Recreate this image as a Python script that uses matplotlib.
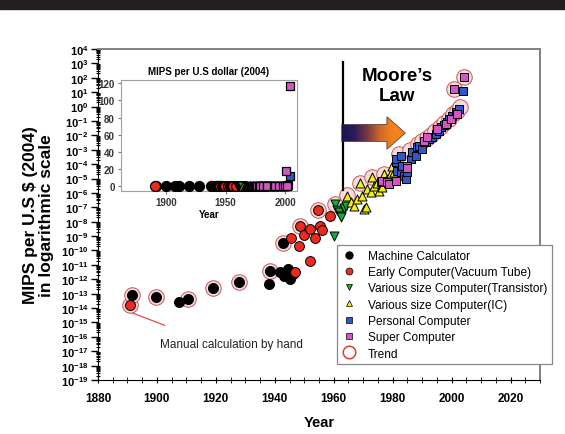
import numpy as np
import matplotlib.pyplot as plt
from matplotlib.colors import LinearSegmentedColormap
from matplotlib.patches import Polygon, Rectangle
from matplotlib.lines import Line2D
from matplotlib.ticker import FixedLocator, MultipleLocator, NullFormatter

plt.rcParams["font.family"] = ["Liberation Sans", "DejaVu Sans"]
plt.rcParams["mathtext.fontset"] = "custom"
plt.rcParams["mathtext.rm"] = "Liberation Sans:bold"
plt.rcParams["mathtext.bf"] = "Liberation Sans:bold"
plt.rcParams["mathtext.it"] = "Liberation Sans:bold"

OUTPUT_FIG = "out.png"

# values are log10(MIPS per US$ 2004)
CALC_YEARS = [1891.5, 1899.6, 1907.5, 1910.4, 1919.1, 1927.9, 1937.9, 1938.5,
              1941.9, 1942.8, 1943.0, 1944.4, 1945.3, 1946.2]
CALC_EXP = [-13.1, -13.2, -13.58, -13.38, -12.62, -12.2, -12.35, -11.4,
            -11.5, -9.47, -11.74, -11.3, -11.97, -11.6]

MANUAL_YEARS = [1891.0]
MANUAL_EXP = [-13.8]

TUBE_YEARS = [1945.6, 1946.9, 1948.1, 1948.7, 1949.8, 1951.8, 1951.9,
              1953.8, 1954.7, 1955.2, 1955.9, 1958.9]
TUBE_EXP = [-9.1, -11.5, -9.66, -8.3, -8.9, -8.5, -10.7,
            -9.1, -7.16, -8.27, -8.55, -7.6]

TRANSISTOR_YEARS = [1960.0, 1960.3, 1961.0, 1961.7, 1962.3, 1962.6, 1963.4, 1964.0]
TRANSISTOR_EXP = [-8.96, -6.76, -7.2, -7.3, -7.6, -7.7, -7.06, -6.9]

IC_YEARS = [1964.5, 1966.0, 1966.8, 1968.0, 1968.9, 1969.7, 1970.2, 1970.8,
            1971.4, 1972.5, 1973.1, 1973.6, 1974.8, 1975.3, 1976.5, 1977.0,
            1978.2, 1979.3, 1979.9, 1980.4]
IC_EXP = [-6.2, -6.6, -6.9, -6.4, -5.3, -6.2, -7.1, -6.95,
          -5.7, -5.95, -4.88, -5.5, -5.3, -5.84, -5.6, -4.68,
          -5.05, -4.6, -4.1, -4.56]

PC_YEARS = [1981.0, 1981.0, 1981.6, 1982.7, 1982.7, 1983.3, 1983.8, 1984.4,
            1985.0, 1986.1, 1986.7, 1987.8, 1988.4, 1989.0, 1990.0, 1990.6,
            1991.2, 1992.3, 1993.5, 1994.6, 1995.7, 1996.3, 1997.4, 1998.6,
            1999.1, 2000.3, 2001.4, 2002.6, 2004.0]
PC_EXP = [-3.87, -3.64, -4.45, -4.56, -3.41, -4.1, -4.8, -5.03,
          -4.56, -3.64, -3.18, -3.41, -2.83, -2.76, -2.94, -2.48,
          -2.44, -2.25, -2.13, -1.9, -1.67, -1.44, -1.28, -1.09,
          -0.86, -0.63, -0.4, -0.17, 1.08]

SUPER_YEARS = [1975.9, 1976.5, 1978.2, 1978.8, 1981.0, 1984.8, 1985.0, 1990.6,
               1991.8, 1995.2, 1998.0, 1999.7, 2002.0, 2000.9, 2004.3]
SUPER_EXP = [-5.26, -5.15, -5.21, -5.4, -5.15, -4.1, -4.29, -2.37,
             -2.13, -1.56, -1.2, -0.86, -0.51, 1.23, 2.07]

TREND_YEARS = [1891.0, 1891.5, 1899.6, 1910.4, 1919.1, 1927.9, 1938.5, 1942.8,
               1948.7, 1954.7, 1960.3, 1964.4, 1968.9, 1973.1, 1977.0, 1982.0,
               1986.0, 1988.5, 1990.0, 1991.5, 1993.0, 1994.5, 1996.0, 1997.5,
               1999.0, 2000.5, 2002.0, 2003.0, 2000.9, 2004.3]
TREND_EXP = [-13.8, -13.1, -13.2, -13.38, -12.62, -12.2, -11.4, -9.47,
             -8.3, -7.16, -6.76, -6.14, -5.3, -4.88, -4.68, -3.3,
             -3.0, -2.6, -2.4, -2.15, -1.95, -1.7, -1.4, -1.15,
             -0.85, -0.55, -0.3, -0.05, 1.23, 2.07]

LABELS = ["Machine Calculator", "Early Computer(Vacuum Tube)",
          "Various size Computer(Transistor)", "Various size Computer(IC)",
          "Personal Computer", "Super Computer", "Trend"]


def main():
    series = [
        (CALC_YEARS, CALC_EXP, "o", "#000000", 52),
        (MANUAL_YEARS, MANUAL_EXP, "o", "#ee2a1f", 52),
        (TUBE_YEARS, TUBE_EXP, "o", "#ee2a1f", 50),
        (TRANSISTOR_YEARS, TRANSISTOR_EXP, "v", "#1da83a", 42),
        (IC_YEARS, IC_EXP, "^", "#f2ee10", 42),
        (PC_YEARS, PC_EXP, "s", "#3355c8", 40),
        (SUPER_YEARS, SUPER_EXP, "s", "#d455c4", 40),
    ]

    fig = plt.figure(figsize=(5.65, 4.35), dpi=100)
    fig.patches.append(Rectangle((0, 1 - 10 / 435), 1, 10 / 435,
                                 transform=fig.transFigure, color="#231f20"))

    ax = fig.add_axes([98 / 565, 1 - 381 / 435, 442 / 565, 331 / 435])
    ax.set_yscale("log")

    # trend halos behind the markers
    ax.scatter(TREND_YEARS, 10.0 ** np.array(TREND_EXP), s=125, marker="o",
               facecolor="#f6dcdc", edgecolor="#c85858", linewidth=0.7, zorder=2)
    for years, exps, mk, col, size in series:
        ax.scatter(years, 10.0 ** np.array(exps), s=size, marker=mk,
                   facecolor=col, edgecolor="black", linewidth=0.7, zorder=3)

    ax.set_xlim(1880, 2030)
    ax.set_ylim(1e-19, 1e4)

    exps = list(range(-19, 5))
    ax.yaxis.set_major_locator(FixedLocator([10.0 ** e for e in exps]))
    ax.set_yticklabels([r"$\mathbf{10^{%d}}$" % e for e in exps], fontsize=8)
    minors = [m * 10.0 ** e for e in range(-19, 4) for m in range(2, 10)]
    ax.yaxis.set_minor_locator(FixedLocator(minors))
    ax.yaxis.set_minor_formatter(NullFormatter())
    ax.tick_params(axis="y", which="major", direction="out", length=5, width=1, pad=2)
    ax.tick_params(axis="y", which="minor", direction="inout", length=3, width=0.8)

    ax.xaxis.set_major_locator(MultipleLocator(20))
    ax.xaxis.set_minor_locator(MultipleLocator(5))
    ax.tick_params(axis="x", which="major", direction="inout", length=5, pad=6)
    ax.tick_params(axis="x", which="minor", direction="inout", length=4)
    for lbl in ax.get_xticklabels():
        lbl.set_fontweight("bold")
        lbl.set_fontsize(8.5)

    for side in ["top", "right"]:
        ax.spines[side].set_color("#808080")
        ax.spines[side].set_linewidth(1.4)

    ax.set_xlabel("Year", fontsize=10.5, fontweight="bold", labelpad=8)
    ax.set_ylabel("MIPS per U.S $ (2004)\nin logarithmic scale", fontsize=12.5,
                  fontweight="bold", labelpad=5, linespacing=1.05)

    # Moore's law marker line and label
    ax.plot([1963, 1963], [10 ** 3.1, 10 ** -5.8], color="black", lw=1.6, zorder=4)
    ax.text(1981.6, 10 ** 1.45, "Moore\u2019s\nLaw", ha="center", va="center",
            fontsize=13.5, fontweight="bold", linespacing=1.2)

    ax.plot([1891.8, 1902.6], [10 ** -14.35, 10 ** -15.2], color="#f04848", lw=0.9)
    ax.text(1900.9, 10 ** -16.5, "Manual calculation by hand", fontsize=8.5,
            va="center", color="#222222")

    handles = [
        Line2D([], [], ls="", marker="o", mfc="#000000", mec="black", ms=5),
        Line2D([], [], ls="", marker="o", mfc="#ee2a1f", mec="black", ms=5, mew=0.5),
        Line2D([], [], ls="", marker="v", mfc="#1da83a", mec="black", ms=5, mew=0.5),
        Line2D([], [], ls="", marker="^", mfc="#f2ee10", mec="black", ms=5, mew=0.5),
        Line2D([], [], ls="", marker="s", mfc="#3355c8", mec="black", ms=4.5, mew=0.5),
        Line2D([], [], ls="", marker="s", mfc="#d455c4", mec="black", ms=4.5, mew=0.5),
        Line2D([], [], ls="", marker="o", mfc="none", mec="#e03a30", ms=9, mew=1.1),
    ]
    leg = ax.legend(handles, LABELS, loc="upper left",
                    bbox_to_anchor=(337 / 565, 1 - 246 / 435),
                    bbox_transform=fig.transFigure, fontsize=8.6, fancybox=False,
                    edgecolor="#888888", framealpha=1, labelspacing=0.36,
                    handlelength=1.2, handletextpad=1.0, borderpad=0.4,
                    borderaxespad=0)
    leg.get_frame().set_linewidth(0.9)
    leg.set_zorder(6)

    # inset: same data on a linear scale
    ins = fig.add_axes([121 / 565, 1 - 192 / 435, 176 / 565, 111 / 435])
    for years, exps_, mk, col, size in series:
        ins.scatter(years, 10.0 ** np.array(exps_), s=size * 1.0, marker=mk,
                    facecolor=col, edgecolor="black", linewidth=0.9, zorder=3)
    ins.set_xlim(1862, 2010)
    ins.set_ylim(-6, 124)
    ins.set_yticks(np.arange(0, 121, 20))
    ins.set_xticks([1900, 1950, 2000])
    ins.tick_params(labelsize=7, length=2.5, color="#777777", labelcolor="#333333", pad=2)
    for lbl in ins.get_xticklabels() + ins.get_yticklabels():
        lbl.set_fontweight("bold")
    for sp in ins.spines.values():
        sp.set_color("#a0a0a0")
    ins.set_title("MIPS per U.S dollar (2004)", fontsize=7, fontweight="bold", pad=4)
    ins.set_xlabel("Year", fontsize=7, fontweight="bold", labelpad=1)

    # gradient arrow
    arr = fig.add_axes([341 / 565, 1 - 151 / 435, 65 / 565, 34 / 435])
    arr.set_xlim(-0.01, 1.01)
    arr.set_ylim(-0.02, 1.02)
    arr.axis("off")
    cmap = LinearSegmentedColormap.from_list(
        "moore", ["#1b1450", "#2e1a5a", "#7a3a44", "#d06a28", "#f5821e", "#f5821e"])
    grad = np.linspace(0, 1, 256).reshape(1, -1)
    im = arr.imshow(grad, cmap=cmap, extent=(0, 1, 0, 1), aspect="auto")
    shape = Polygon([(0, 0.24), (0.71, 0.24), (0.71, 0.0), (1.0, 0.5),
                     (0.71, 1.0), (0.71, 0.76), (0, 0.76)], closed=True,
                    facecolor="none", edgecolor="#4a3030", lw=0.5)
    arr.add_patch(shape)
    im.set_clip_path(shape)

    fig.savefig(OUTPUT_FIG, dpi=100)


if __name__ == "__main__":
    main()
